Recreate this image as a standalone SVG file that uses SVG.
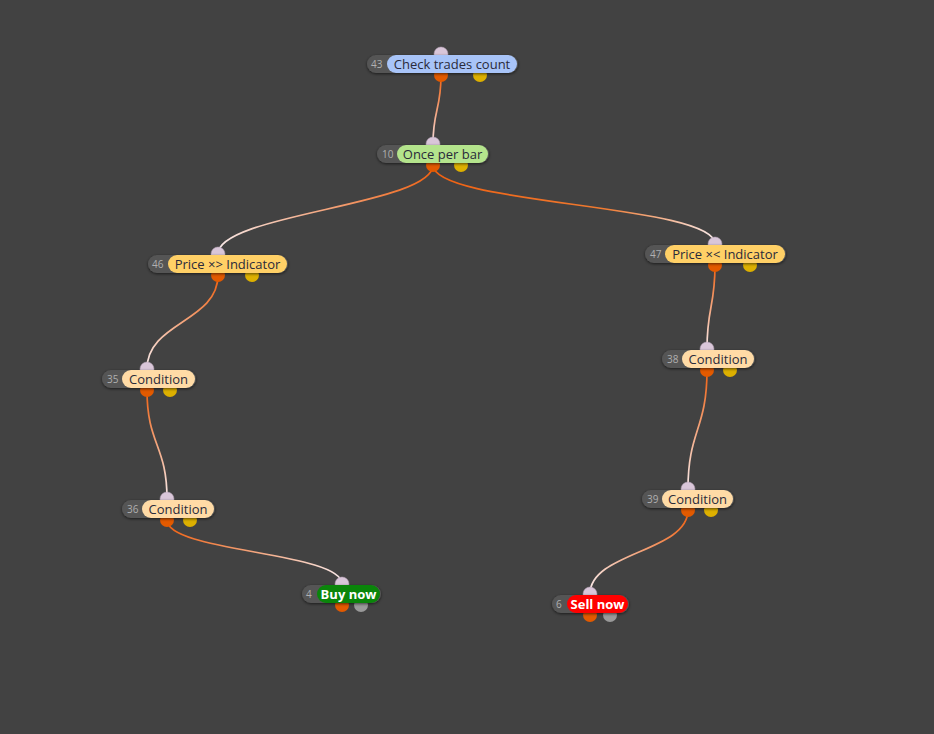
<svg xmlns="http://www.w3.org/2000/svg" width="934" height="734" viewBox="0 0 934 734">
<defs>
<filter id="sh" x="-20%" y="-50%" width="140%" height="200%"><feDropShadow dx="0" dy="1" stdDeviation="1.5" flood-color="#000" flood-opacity="0.6"/></filter>
<style>
.dark{fill:#555;filter:url(#sh)}
.num{font-family:"Open Sans","Noto Sans",sans-serif;font-size:10px;fill:#b0b0b0}
.lbl{font-family:"Open Sans","Noto Sans",sans-serif;font-size:13px;fill:#2a2a3a;text-anchor:middle}
.big{font-family:"Open Sans","Noto Sans",sans-serif;font-size:13px;font-weight:bold;fill:#fff;text-anchor:middle}
.in{fill:#d9c6d9;stroke:#b8a4b8;stroke-width:0.5}
.out{fill:#e25a00}
.yel{fill:#ddb000}
.gry{fill:#9a9a9a}
.edge{fill:none;stroke-width:1.7}
</style>
<linearGradient id="g1" gradientUnits="userSpaceOnUse" x1="441" y1="75" x2="433" y2="144"><stop offset="0" stop-color="#f06010"/><stop offset="1" stop-color="#f5dede"/></linearGradient>
<linearGradient id="g2" gradientUnits="userSpaceOnUse" x1="433" y1="165" x2="218" y2="254"><stop offset="0" stop-color="#f06010"/><stop offset="1" stop-color="#f8eaea"/></linearGradient>
<linearGradient id="g3" gradientUnits="userSpaceOnUse" x1="433" y1="165" x2="715" y2="244"><stop offset="0" stop-color="#f06010"/><stop offset="0.6" stop-color="#f07a30"/><stop offset="1" stop-color="#f8eaea"/></linearGradient>
<linearGradient id="g4" gradientUnits="userSpaceOnUse" x1="218" y1="275" x2="147" y2="369"><stop offset="0" stop-color="#f06010"/><stop offset="1" stop-color="#f8eaea"/></linearGradient>
<linearGradient id="g5" gradientUnits="userSpaceOnUse" x1="715" y1="265" x2="707" y2="349"><stop offset="0" stop-color="#f06010"/><stop offset="1" stop-color="#f8eaea"/></linearGradient>
<linearGradient id="g6" gradientUnits="userSpaceOnUse" x1="147" y1="390" x2="167" y2="499"><stop offset="0" stop-color="#f06010"/><stop offset="1" stop-color="#f8eaea"/></linearGradient>
<linearGradient id="g7" gradientUnits="userSpaceOnUse" x1="707" y1="370" x2="688" y2="489"><stop offset="0" stop-color="#f06010"/><stop offset="1" stop-color="#f8eaea"/></linearGradient>
<linearGradient id="g8" gradientUnits="userSpaceOnUse" x1="167" y1="520" x2="342" y2="584"><stop offset="0" stop-color="#f06010"/><stop offset="1" stop-color="#f8eaea"/></linearGradient>
<linearGradient id="g9" gradientUnits="userSpaceOnUse" x1="688" y1="510" x2="590" y2="594"><stop offset="0" stop-color="#f06010"/><stop offset="1" stop-color="#f8eaea"/></linearGradient>
</defs>
<rect width="934" height="734" fill="#424242"/>
<g id="connectors">
<path class="edge" stroke="url(#g1)" d="M441,75 C441,110 433,110 433,144"/>
<path class="edge" stroke="url(#g2)" d="M433,165 C433,205 218,214 218,254"/>
<path class="edge" stroke="url(#g3)" d="M433,165 C433,205 715,204 715,244"/>
<path class="edge" stroke="url(#g4)" d="M218,275 C218,322 147,322 147,369"/>
<path class="edge" stroke="url(#g5)" d="M715,265 C715,307 707,307 707,349"/>
<path class="edge" stroke="url(#g6)" d="M147,390 C147,445 167,445 167,499"/>
<path class="edge" stroke="url(#g7)" d="M707,370 C707,430 688,430 688,489"/>
<path class="edge" stroke="url(#g8)" d="M167,520 C167,552 342,552 342,584"/>
<path class="edge" stroke="url(#g9)" d="M688,510 C688,552 590,552 590,594"/>
</g>
<g id="n43">
<circle class="in" cx="441" cy="54" r="7"/><circle class="out" cx="441" cy="75" r="7"/><circle class="yel" cx="480" cy="75" r="7"/>
<rect class="dark" x="367" y="55" width="151" height="18" rx="9"/>
<rect x="387" y="55" width="130" height="18" rx="9" fill="#a8c4f8"/>
<text class="num" x="371" y="68">43</text><text class="lbl" x="452" y="68.5">Check trades count</text>
</g>
<g id="n10">
<circle class="in" cx="433" cy="144" r="7"/><circle class="out" cx="433" cy="165" r="7"/><circle class="yel" cx="461" cy="165" r="7"/>
<rect class="dark" x="377" y="145" width="112" height="18" rx="9"/>
<rect x="397" y="145" width="91" height="18" rx="9" fill="#b4e48c"/>
<text class="num" x="382" y="158">10</text><text class="lbl" x="442.5" y="158.5">Once per bar</text>
</g>
<g id="n46">
<circle class="in" cx="218" cy="254" r="7"/><circle class="out" cx="218" cy="275" r="7"/><circle class="yel" cx="252" cy="275" r="7"/>
<rect class="dark" x="148" y="255" width="140" height="18" rx="9"/>
<rect x="168" y="255" width="119" height="18" rx="9" fill="#ffd066"/>
<text class="num" x="152" y="268">46</text><text class="lbl" x="227.5" y="268.5">Price ×&gt; Indicator</text>
</g>
<g id="n47">
<circle class="in" cx="715" cy="244" r="7"/><circle class="out" cx="715" cy="265" r="7"/><circle class="yel" cx="750" cy="265" r="7"/>
<rect class="dark" x="645" y="245" width="141" height="18" rx="9"/>
<rect x="665" y="245" width="120" height="18" rx="9" fill="#ffd066"/>
<text class="num" x="650" y="258">47</text><text class="lbl" x="725" y="258.5">Price ×&lt; Indicator</text>
</g>
<g id="n35">
<circle class="in" cx="147" cy="369" r="7"/><circle class="out" cx="147" cy="390" r="7"/><circle class="yel" cx="170" cy="390" r="7"/>
<rect class="dark" x="102" y="370" width="94" height="18" rx="9"/>
<rect x="122" y="370" width="73" height="18" rx="9" fill="#ffdba6"/>
<text class="num" x="107" y="383">35</text><text class="lbl" x="158.5" y="383.5">Condition</text>
</g>
<g id="n36">
<circle class="in" cx="167" cy="499" r="7"/><circle class="out" cx="167" cy="520" r="7"/><circle class="yel" cx="190" cy="520" r="7"/>
<rect class="dark" x="122" y="500" width="93" height="18" rx="9"/>
<rect x="142" y="500" width="72" height="18" rx="9" fill="#ffdba6"/>
<text class="num" x="127" y="513">36</text><text class="lbl" x="178" y="513.5">Condition</text>
</g>
<g id="n38">
<circle class="in" cx="707" cy="349" r="7"/><circle class="out" cx="707" cy="370" r="7"/><circle class="yel" cx="730" cy="370" r="7"/>
<rect class="dark" x="662" y="350" width="93" height="18" rx="9"/>
<rect x="682" y="350" width="72" height="18" rx="9" fill="#ffdba6"/>
<text class="num" x="667" y="363">38</text><text class="lbl" x="718" y="363.5">Condition</text>
</g>
<g id="n39">
<circle class="in" cx="688" cy="489" r="7"/><circle class="out" cx="688" cy="510" r="7"/><circle class="yel" cx="711" cy="510" r="7"/>
<rect class="dark" x="642" y="490" width="92" height="18" rx="9"/>
<rect x="662" y="490" width="71" height="18" rx="9" fill="#ffdba6"/>
<text class="num" x="647" y="503">39</text><text class="lbl" x="697.5" y="503.5">Condition</text>
</g>
<g id="n4">
<circle class="in" cx="342" cy="584" r="7"/><circle class="out" cx="342" cy="605" r="7"/><circle class="gry" cx="361" cy="605" r="7"/>
<rect class="dark" x="302" y="585" width="79" height="18" rx="9"/>
<rect x="317" y="585" width="63" height="18" rx="9" fill="#0a850a"/>
<text class="num" x="306" y="598">4</text><text class="big" x="348.5" y="599">Buy now</text>
</g>
<g id="n6">
<circle class="in" cx="590" cy="594" r="7"/><circle class="out" cx="590" cy="615" r="7"/><circle class="gry" cx="610" cy="615" r="7"/>
<rect class="dark" x="552" y="595" width="77" height="18" rx="9"/>
<rect x="567" y="595" width="61" height="18" rx="9" fill="#ff0000"/>
<text class="num" x="556" y="608">6</text><text class="big" x="597.5" y="609">Sell now</text>
</g>
</svg>
